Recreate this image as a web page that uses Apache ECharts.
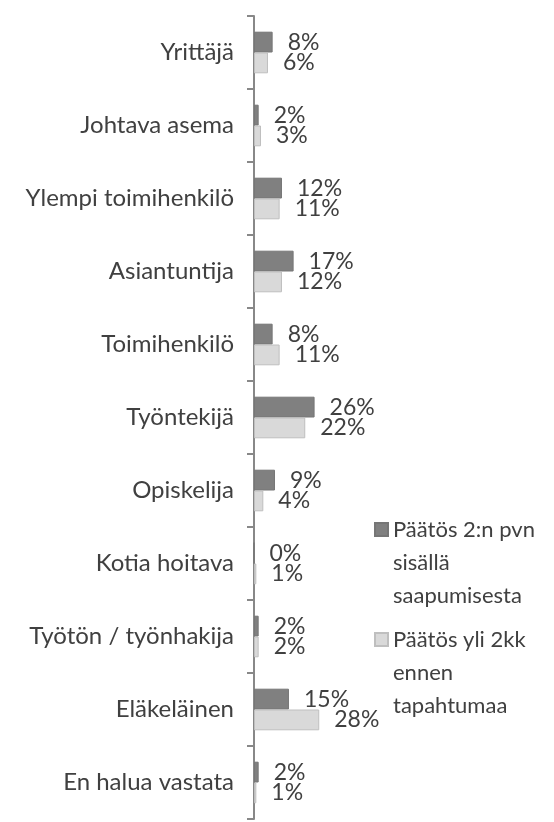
<!DOCTYPE html>
<html>
<head>
<meta charset="utf-8">
<script src="https://cdn.jsdelivr.net/npm/echarts@6/dist/echarts.min.js"></script>
<style>
html,body{margin:0;padding:0;background:#fff;}
#chart{width:554px;height:822px;}
</style>
</head>
<body>
<div id="chart"></div>
<script>
const categories = ['Yrittäjä','Johtava asema','Ylempi toimihenkilö','Asiantuntija','Toimihenkilö','Työntekijä','Opiskelija','Kotia hoitava','Työtön / työnhakija','Eläkeläinen','En halua vastata'];
const seriesNames = ['Päätös 2:n pvn\nsisällä\nsaapumisesta','Päätös yli 2kk\nennen\ntapahtumaa'];
const within2days = [8,2,12,17,8,26,9,0,2,15,2];
const over2months = [6,3,11,12,11,22,4,1,2,28,1];

const FONT = 'Lato';
const TXT = '#404040';
const chart = echarts.init(document.getElementById('chart'), null, {renderer:'canvas'});
const labelCfg = {show:true, position:'right', distance:15, formatter:'{c}%', color:TXT, fontFamily:FONT, fontSize:23};
const legendBase = {
  orient:'vertical', left:374, padding:0, itemWidth:13, itemHeight:13,
  selectedMode:false, icon:'rect',
  formatter: function (n) { return '\n\n' + n; },
  textStyle:{color:TXT, fontFamily:FONT, fontSize:22, lineHeight:33}
};
chart.setOption({
  animation:false,
  textStyle:{fontFamily:FONT},
  legend:[
    Object.assign({}, legendBase, {top:447, data:[seriesNames[0]]}),
    Object.assign({}, legendBase, {top:557, data:[seriesNames[1]]})
  ],
  grid:{left:254, top:16, width:233, height:803, containLabel:false},
  xAxis:{type:'value', min:0, max:100, show:false},
  yAxis:{
    type:'category', data:categories, inverse:true,
    axisLine:{show:true, lineStyle:{color:'#888888', width:2}},
    axisTick:{show:true, length:7, lineStyle:{color:'#888888', width:2}},
    axisLabel:{color:TXT, fontFamily:FONT, fontSize:24, margin:20}
  },
  series:[
    {name:seriesNames[0], type:'bar', data:within2days, barGap:'0%', barCategoryGap:'43%',
     itemStyle:{color:'#808080', borderColor:'#767676', borderWidth:1}, label:labelCfg},
    {name:seriesNames[1], type:'bar', data:over2months, barGap:'0%', barCategoryGap:'43%',
     itemStyle:{color:'#d9d9d9', borderColor:'#bfbfbf', borderWidth:1}, label:labelCfg}
  ]
});
</script>
</body>
</html>
